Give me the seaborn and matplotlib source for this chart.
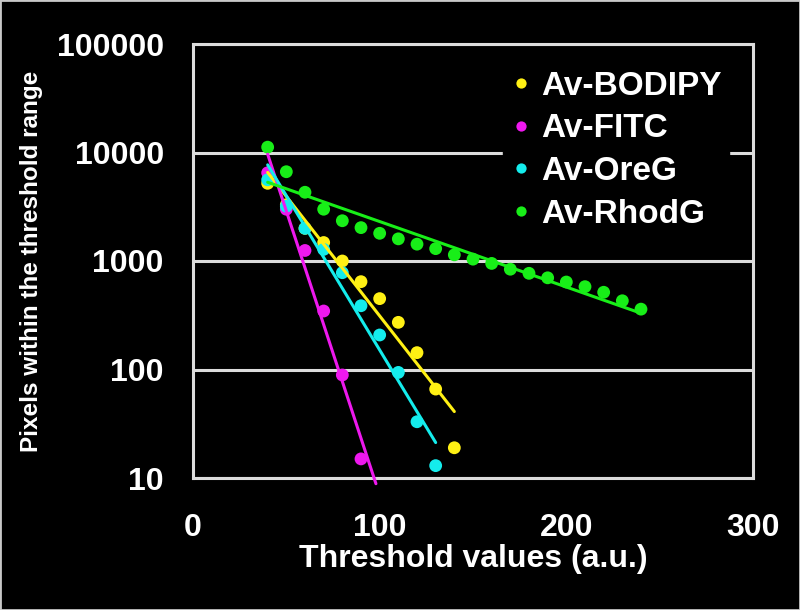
import numpy as np
import pandas as pd
import matplotlib
matplotlib.use("Agg")
import matplotlib.pyplot as plt
import seaborn as sns
from matplotlib.patches import Rectangle
from matplotlib.ticker import FixedLocator, FuncFormatter, NullLocator

# ---------------- data ----------------
series_names = ["Av-BODIPY", "Av-FITC", "Av-OreG", "Av-RhodG"]

bodipy_x = [40, 50, 60, 70, 80, 90, 100, 110, 120, 130, 140]
bodipy_y = [5200, 3300, 2000, 1480, 1000, 645, 450, 272, 143, 66, 19]

fitc_x = [40, 50, 60, 70, 80, 90]
fitc_y = [6500, 3000, 1250, 346, 89, 15]

oreg_x = [40, 50, 60, 70, 80, 90, 100, 110, 120, 130]
oreg_y = [5600, 3200, 2000, 1280, 780, 387, 208, 94, 33, 13]

rhodg_x = [40, 50, 60, 70, 80, 90, 100, 110, 120, 130, 140,
           150, 160, 170, 180, 190, 200, 210, 220, 230, 240]
rhodg_y = [11200, 6650, 4300, 3000, 2350, 2030, 1800, 1600, 1430, 1300, 1140,
           1040, 950, 840, 770, 700, 640, 580, 515, 430, 360]

# trendline forward forecast (x units) per series
forecast = {"Av-FITC": 8}

colors = ["#fff014", "#ee18ee", "#14ecec", "#18ee18"]

y_ticks = [10, 100, 1000, 10000, 100000]
x_ticks = [0, 100, 200, 300]

# ---------------- frames ----------------
series_data = [(series_names[0], bodipy_x, bodipy_y),
               (series_names[1], fitc_x, fitc_y),
               (series_names[2], oreg_x, oreg_y),
               (series_names[3], rhodg_x, rhodg_y)]

pts = pd.concat([pd.DataFrame({"x": xs, "y": ys, "series": n})
                 for n, xs, ys in series_data], ignore_index=True)

fits = []
for n, xs, ys in series_data:
    b, a = np.polyfit(np.array(xs, float), np.log10(ys), 1)
    xx = np.linspace(min(xs), max(xs) + forecast.get(n, 0), 60)
    fits.append(pd.DataFrame({"x": xx, "y": 10 ** (a + b * xx), "series": n}))
fit_df = pd.concat(fits, ignore_index=True)

# ---------------- style ----------------
sns.set_theme(style="dark")
plt.rcParams["font.family"] = ["Liberation Sans", "DejaVu Sans"]
plt.rcParams["font.weight"] = "bold"
plt.rcParams["axes.labelweight"] = "bold"

fig = plt.figure(figsize=(8, 6.1), dpi=100, facecolor="black")
ax = fig.add_axes([193 / 800, 1 - 478 / 610, 560 / 800, 434 / 610])
ax.set_facecolor("black")

sns.scatterplot(data=pts, x="x", y="y", hue="series", hue_order=series_names,
                palette=colors, s=85, linewidth=0, ax=ax, zorder=3)
sns.lineplot(data=fit_df, x="x", y="y", hue="series", hue_order=series_names,
             palette=colors, linewidth=2.2, legend=False, ax=ax, zorder=4,
             estimator=None, sort=False)
for ln in ax.lines:
    ln.set_clip_on(False)

ax.set_yscale("log")
ax.set_ylim(10, 100000)
ax.set_xlim(0, 300)
ax.yaxis.set_major_locator(FixedLocator(y_ticks))
ax.yaxis.set_minor_locator(NullLocator())
ax.yaxis.set_major_formatter(FuncFormatter(lambda v, _: f"{int(round(v))}"))
ax.xaxis.set_major_locator(FixedLocator(x_ticks))

ax.set_axisbelow(True)
ax.yaxis.grid(True, color="#dcdcdc", linewidth=2.2)
ax.xaxis.grid(False)
for sp in ax.spines.values():
    sp.set_visible(True)
    sp.set_color("#dcdcdc")
    sp.set_linewidth(2.2)

ax.tick_params(axis="both", length=0, labelsize=23, labelcolor="white")
ax.tick_params(axis="x", pad=25)
ax.tick_params(axis="y", pad=21)
for lab in ax.get_xticklabels() + ax.get_yticklabels():
    lab.set_fontweight("bold")

ax.set_xlabel("Threshold values (a.u.)", fontsize=23, color="white",
              fontweight="bold", labelpad=1)
ax.set_ylabel("Pixels within the threshold range", fontsize=17.5, color="white",
              fontweight="bold", labelpad=10)

handles, labels = ax.get_legend_handles_labels()
leg = ax.legend(handles, labels, loc="upper left",
                bbox_to_anchor=(503 / 800, 1 - 64 / 610),
                bbox_transform=fig.transFigure, borderaxespad=0,
                frameon=True, facecolor="black", edgecolor="black",
                framealpha=1, fancybox=False, fontsize=24,
                borderpad=0.2, handlelength=0.7, handletextpad=0.25,
                labelspacing=0.35, markerscale=0.8)
leg.set_zorder(10)
for t in leg.get_texts():
    t.set_color("white")
    t.set_fontweight("bold")

fig.patches.append(Rectangle((0, 0), 1, 1, transform=fig.transFigure,
                             fill=False, edgecolor="#c8c8c8", linewidth=2))

fig.savefig("out.png", dpi=100, facecolor="black")
